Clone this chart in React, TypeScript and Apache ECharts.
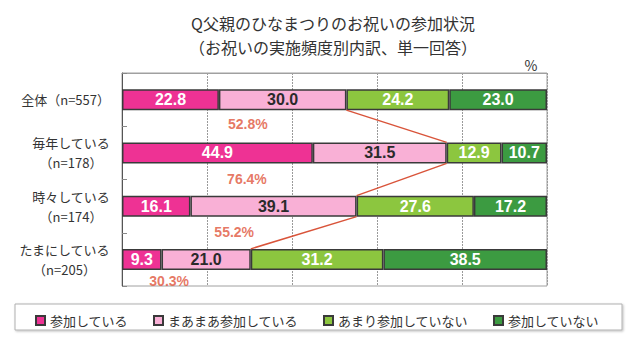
import React, { useEffect, useRef } from "react";
import * as echarts from "echarts";

const categories = [
  "全体（n=557）",
  "毎年している\n（n=178）",
  "時々している\n（n=174）",
  "たまにしている\n（n=205）",
];
const seriesNames = ["参加している", "まあまあ参加している", "あまり参加していない", "参加していない"];
const participating = [22.8, 44.9, 16.1, 9.3];
const somewhat = [30.0, 31.5, 39.1, 21.0];
const rarely = [24.2, 12.9, 27.6, 31.2];
const notParticipating = [23.0, 10.7, 17.2, 38.5];
const participationTotals = [52.8, 76.4, 55.2, 30.3];

const colors = ["#EE3294", "#F9B0D6", "#8CC63F", "#3C9B41"];
const labelColors = ["#ffffff", "#2a2a2a", "#ffffff", "#ffffff"];

// layout constants (label anchor positions in axis units)
const calloutX = [29.6, 29.4, 26.4, 11.1];
const calloutY = [0.96, 1.99, 2.99, 3.91];

const GRID_TOP = 73;
const GRID_BOTTOM_PX = 286;
const BAR_W = 21;

export default function App() {
  const ref = useRef<HTMLDivElement>(null);
  useEffect(() => {
    if (!ref.current) return;
    const chart = echarts.init(ref.current, undefined, { renderer: "svg" });
    const values = [participating, somewhat, rarely, notParticipating];
    const band = (GRID_BOTTOM_PX - GRID_TOP) / categories.length;
    const half = BAR_W / 2 / band;

    const barSeries = seriesNames.map((name, i) => ({
      name,
      type: "bar",
      stack: "total",
      barWidth: BAR_W,
      yAxisIndex: 0,
      data: values[i],
      itemStyle: { color: colors[i], borderColor: "#3a3a3a", borderWidth: 1.5 },
      label: {
        show: true,
        position: "inside",
        formatter: (p: any) => Number(p.value).toFixed(1),
        color: labelColors[i],
        fontFamily: "'Liberation Sans Narrow', 'Liberation Sans', sans-serif",
        fontWeight: "bold",
        fontSize: 16,
      },
      emphasis: { disabled: true },
    }));

    const segs = [] as any[];
    for (let i = 0; i < participationTotals.length - 1; i++) {
      segs.push({
        coords: [
          [participationTotals[i], i + 0.5 + half],
          [participationTotals[i + 1], i + 1.5 - half],
        ],
      });
    }

    const option: any = {
      animation: false,
      grid: {
        left: 122,
        right: 93,
        top: GRID_TOP,
        bottom: 354 - GRID_BOTTOM_PX,
        show: true,
        borderColor: "#a0a0a0",
        borderWidth: 1,
      },
      legend: {
        data: seriesNames,
        left: 30,
        top: 309,
        itemWidth: 9,
        itemHeight: 9,
        itemGap: 25,
        icon: "rect",
        z: 5,
        textStyle: { fontSize: 13, color: "#333", fontFamily: "'Noto Sans CJK JP', sans-serif" },
      },
      xAxis: {
        type: "value",
        min: 0,
        max: 100,
        interval: 20,
        axisLabel: { show: false },
        axisTick: { show: false },
        axisLine: { show: true, lineStyle: { color: "#a0a0a0" } },
        splitLine: { show: true, lineStyle: { color: "#9a9a9a", width: 1, type: [2, 1] } },
      },
      yAxis: [
        {
          type: "category",
          data: categories,
          inverse: true,
          axisLine: { show: true, lineStyle: { color: "#555", width: 1 } },
          axisTick: { show: true, inside: true, length: 5, lineStyle: { color: "#888" } },
          axisLabel: {
            margin: 12,
            color: "#333",
            fontSize: 13,
            lineHeight: 20,
            fontFamily: "'Noto Sans CJK JP', sans-serif",
            formatter: (v: string) =>
              v
                .split("\n")
                .map((s) => `{c|${s}}`)
                .join("\n"),
            rich: {
              c: {
                align: "center",
                fontSize: 13,
                lineHeight: 20,
                color: "#333",
                fontFamily: "'Noto Sans CJK JP', sans-serif",
              },
            },
          },
          splitLine: { show: false },
        },
        {
          type: "value",
          min: 0,
          max: 4,
          inverse: true,
          show: false,
          splitLine: { show: false },
        },
      ],
      graphic: [
        {
          type: "rect",
          z: 0,
          shape: { x: 15, y: 304, width: 607, height: 26 },
          style: {
            fill: "#fff",
            stroke: "#b0b0b0",
            lineWidth: 1,
            shadowBlur: 2,
            shadowColor: "rgba(0,0,0,0.25)",
            shadowOffsetX: 1,
            shadowOffsetY: 1,
          },
        },
        {
          type: "text",
          x: 333,
          y: 23,
          style: {
            text: "Q父親のひなまつりのお祝いの参加状況",
            align: "center",
            verticalAlign: "middle",
            fontSize: 16,
            fill: "#333",
            fontFamily: "'Noto Sans CJK JP', sans-serif",
          },
        },
        {
          type: "text",
          x: 333,
          y: 47,
          style: {
            text: "（お祝いの実施頻度別内訳、単一回答）",
            align: "center",
            verticalAlign: "middle",
            fontSize: 16,
            fill: "#333",
            fontFamily: "'Noto Sans CJK JP', sans-serif",
          },
        },
        {
          type: "text",
          x: 531,
          y: 65,
          style: {
            text: "%",
            align: "center",
            verticalAlign: "middle",
            fontSize: 14,
            fill: "#333",
            fontFamily: "'Noto Sans CJK JP', sans-serif",
          },
        },
      ],
      series: [
        ...barSeries,
        {
          type: "lines",
          coordinateSystem: "cartesian2d",
          xAxisIndex: 0,
          yAxisIndex: 1,
          z: 4,
          lineStyle: { color: "#D9543A", width: 1.5, opacity: 1, curveness: 0 },
          data: segs,
          silent: true,
        },
        {
          type: "scatter",
          xAxisIndex: 0,
          yAxisIndex: 1,
          symbolSize: 0,
          silent: true,
          z: 5,
          data: calloutX.map((x, i) => [x, calloutY[i]]),
          label: {
            show: true,
            position: "inside",
            formatter: (p: any) => participationTotals[p.dataIndex].toFixed(1) + "%",
            color: "#E0553C",
            fontWeight: "bold",
            fontSize: 14,
            fontFamily: "'Liberation Sans', 'Noto Sans', sans-serif",
          },
        },
      ],
    };
    chart.setOption(option);
    return () => chart.dispose();
  }, []);
  return <div ref={ref} style={{ width: 640, height: 354, position: "absolute", left: 0, top: 0 }} />;
}
